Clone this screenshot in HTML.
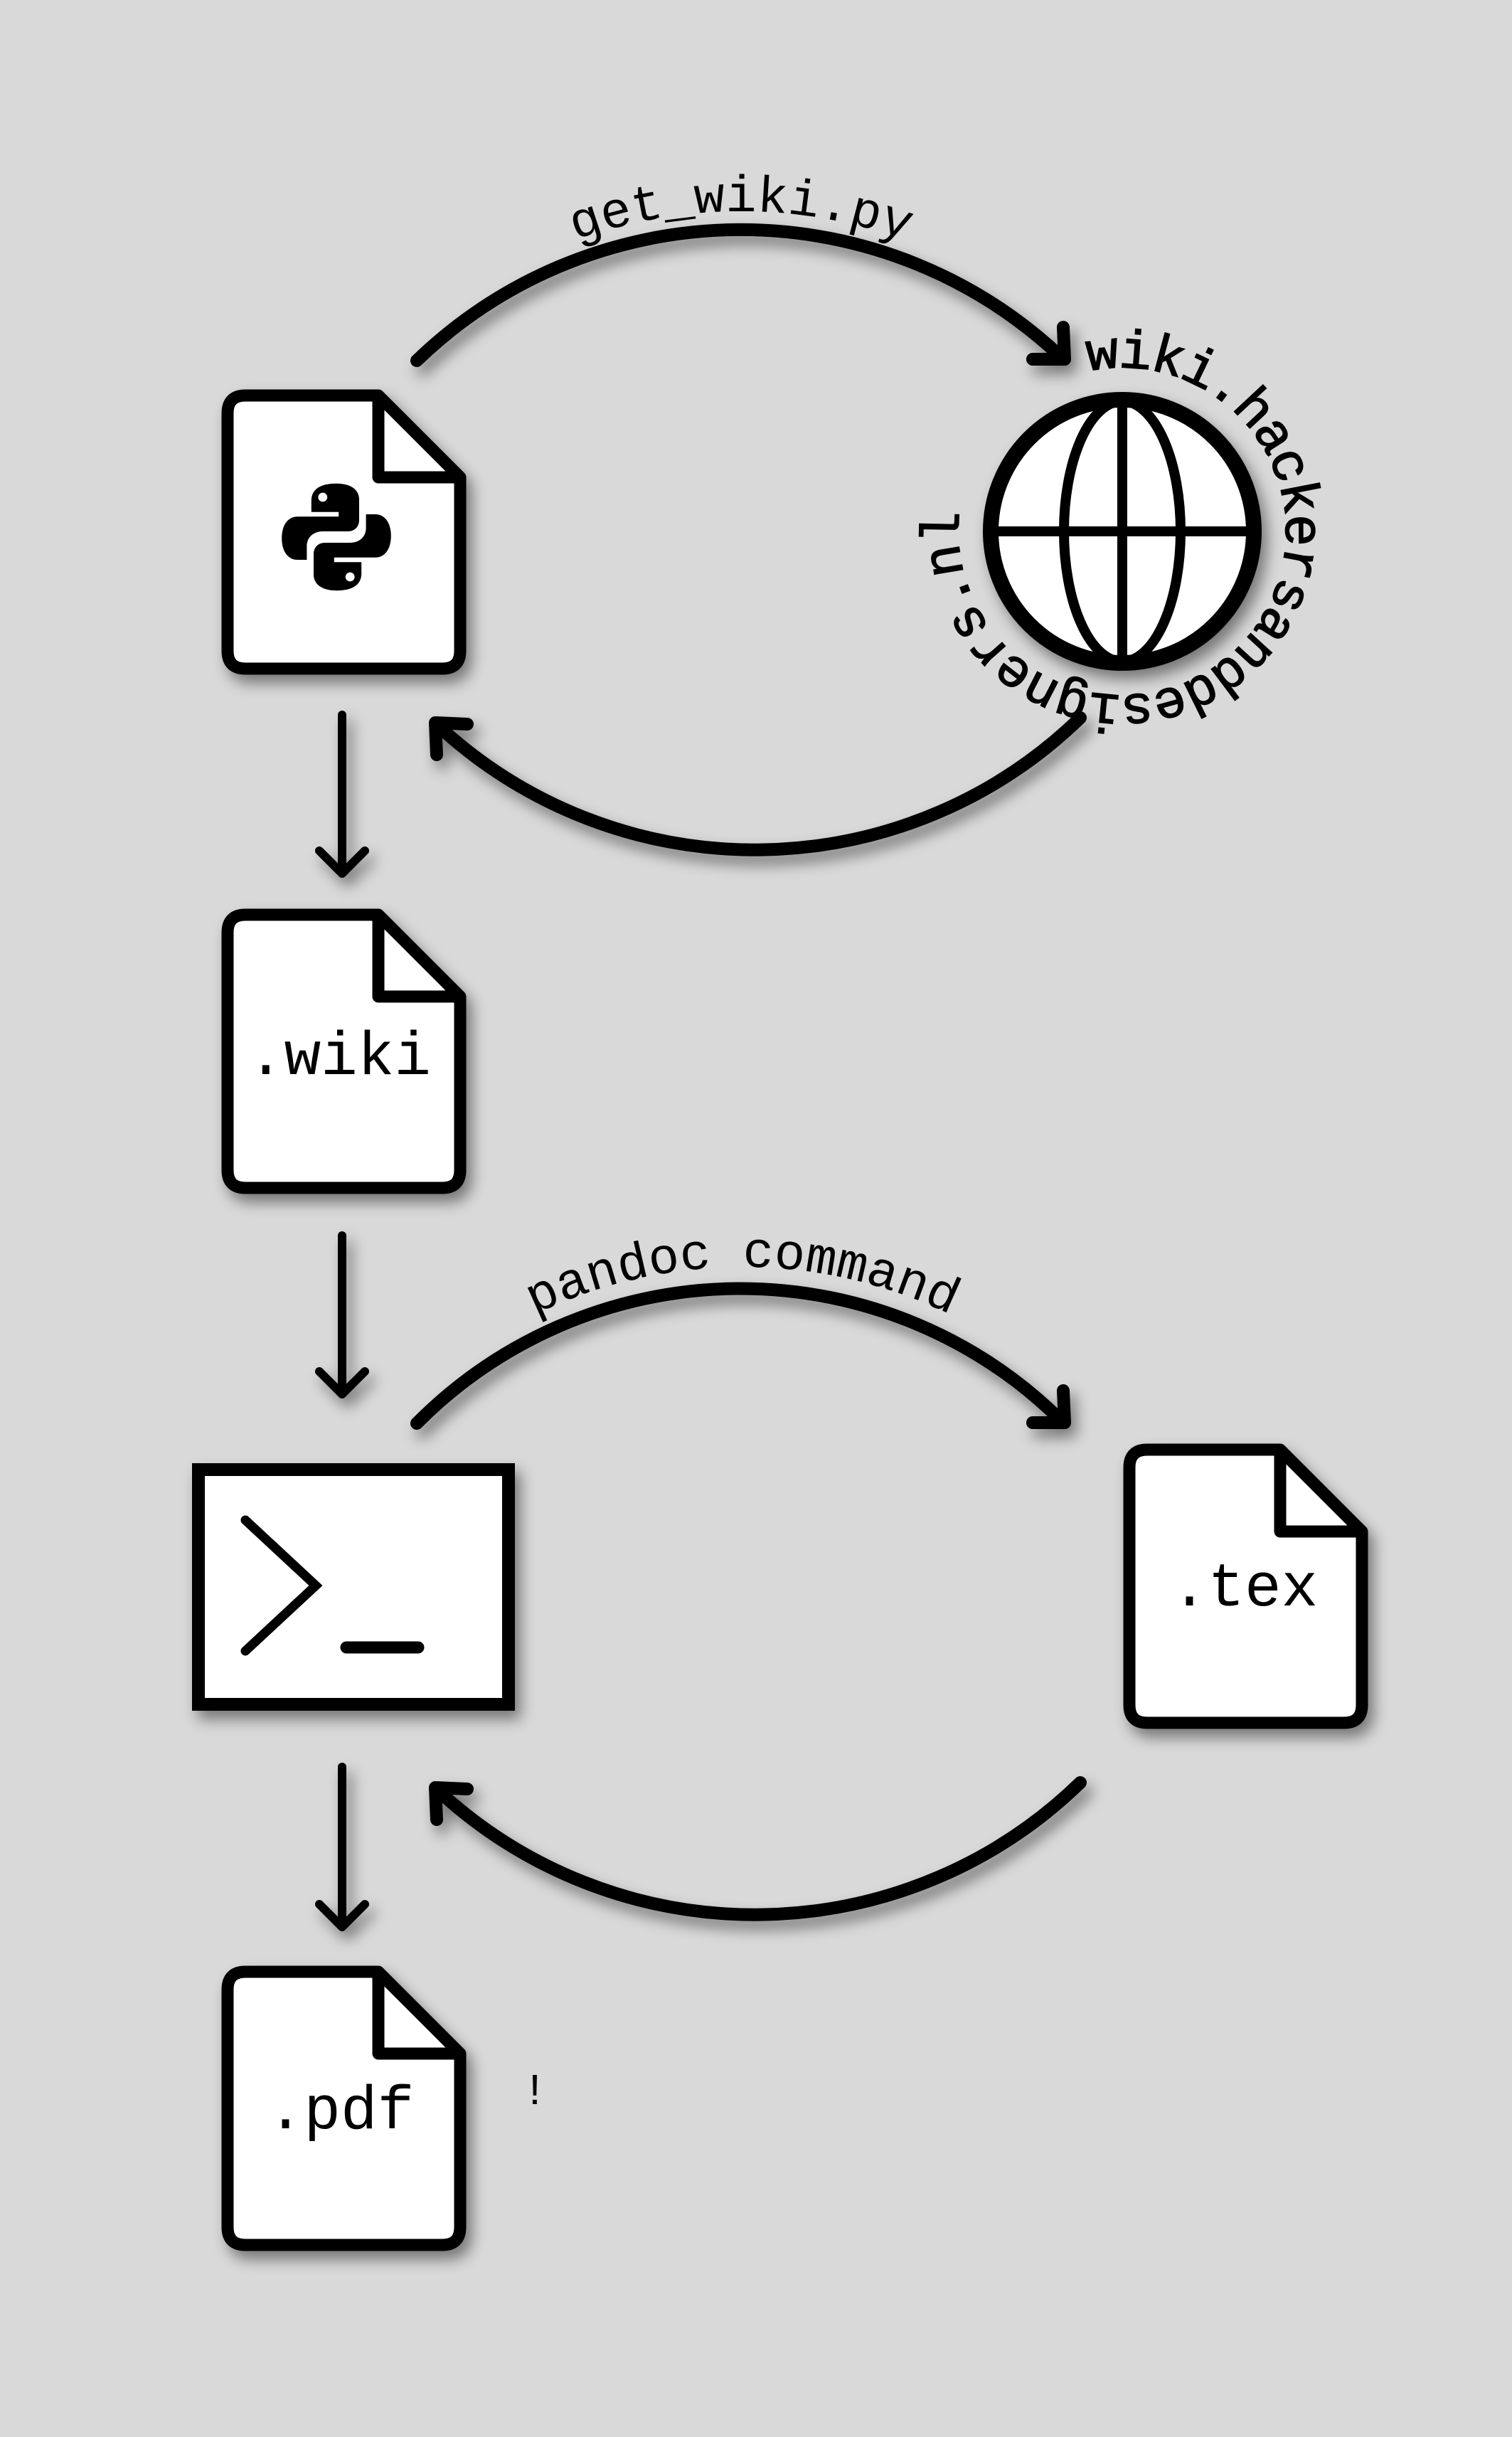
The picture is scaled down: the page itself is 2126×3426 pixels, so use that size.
<!DOCTYPE html>
<html><head><meta charset="utf-8">
<style>
html,body{margin:0;padding:0;background:#d9d9d9;}
svg{display:block;}
text{font-family:"Liberation Mono","DejaVu Sans Mono",monospace;fill:#000;}
</style></head>
<body>
<svg width="2126" height="3426" viewBox="0 0 2126 3426" xmlns="http://www.w3.org/2000/svg">
<defs>
<filter id="sh" x="-20%" y="-20%" width="140%" height="140%">
<feDropShadow dx="8" dy="12" stdDeviation="10" flood-color="#000" flood-opacity="0.45"/>
</filter>
<path id="tp1" d="M362 977 A680 680 0 0 1 1722 977"/>
<path id="tp2" d="M373 2452 A671 671 0 0 1 1715 2452"/>
<path id="tpg" d="M1530 522 A230 230 0 1 1 1626 972 A230 230 0 1 1 1530 522"/>
</defs>
<rect width="2126" height="3426" fill="#d9d9d9"/>

<g filter="url(#sh)" fill="none" stroke="#000" stroke-linecap="round" stroke-linejoin="round">
  <path d="M586 507 A656 656 0 0 1 1490 500" stroke-width="18"/>
  <polyline points="1452,505 1497,505 1495,460" stroke-width="18"/>
  <path d="M1519 1009 A656 656 0 0 1 618 1022" stroke-width="18"/>
  <polyline points="657,1018 612,1016 614,1061" stroke-width="18"/>
  <path d="M586 2001 A641 641 0 0 1 1490 1995" stroke-width="18"/>
  <polyline points="1452,2000 1497,2000 1495,1955" stroke-width="18"/>
  <path d="M1519 2506 A656 656 0 0 1 618 2519" stroke-width="18"/>
  <polyline points="657,2515 612,2513 614,2558" stroke-width="18"/>
  <line x1="481" y1="1005" x2="481" y2="1226" stroke-width="12"/>
  <polyline points="449,1196 481,1228 513,1196" stroke-width="12"/>
  <line x1="481" y1="1737" x2="481" y2="1958" stroke-width="12"/>
  <polyline points="449,1928 481,1960 513,1928" stroke-width="12"/>
  <line x1="481" y1="2484" x2="481" y2="2707" stroke-width="12"/>
  <polyline points="449,2677 481,2709 513,2677" stroke-width="12"/>
</g>

<g filter="url(#sh)" fill="#fff" stroke="#000" stroke-width="17" stroke-linejoin="round">
  <g transform="translate(320,556)">
    <path d="M25 0 L212 0 L327 115 L327 359 Q327 384 302 384 L25 384 Q0 384 0 359 L0 25 Q0 0 25 0 Z"/>
    <path d="M212 0 L212 115 L327 115" fill="none"/>
  </g>
  <g transform="translate(320,1286)">
    <path d="M25 0 L212 0 L327 115 L327 359 Q327 384 302 384 L25 384 Q0 384 0 359 L0 25 Q0 0 25 0 Z"/>
    <path d="M212 0 L212 115 L327 115" fill="none"/>
  </g>
  <g transform="translate(320,2772)">
    <path d="M25 0 L212 0 L327 115 L327 359 Q327 384 302 384 L25 384 Q0 384 0 359 L0 25 Q0 0 25 0 Z"/>
    <path d="M212 0 L212 115 L327 115" fill="none"/>
  </g>
  <g transform="translate(1588,2038)">
    <path d="M25 0 L212 0 L327 115 L327 359 Q327 384 302 384 L25 384 Q0 384 0 359 L0 25 Q0 0 25 0 Z"/>
    <path d="M212 0 L212 115 L327 115" fill="none"/>
  </g>
  <rect x="279" y="2066" width="436" height="330" stroke-linejoin="miter" stroke-width="18"/>
  <circle cx="1578" cy="747" r="185" stroke-width="22"/>
</g>

<g fill="none" stroke="#000" stroke-width="14">
  <ellipse cx="1578" cy="747" rx="82" ry="183"/>
  <line x1="1578" y1="565" x2="1578" y2="929"/>
  <line x1="1396" y1="747" x2="1760" y2="747"/>
</g>

<polyline points="345,2137 444,2229 345,2321" fill="none" stroke="#000" stroke-width="13" stroke-linecap="round" stroke-linejoin="miter"/>
<line x1="487" y1="2316" x2="588" y2="2316" stroke="#000" stroke-width="17" stroke-linecap="round"/>

<g transform="translate(393,675) scale(1.6)">
  <path d="M50 3 C36 3 28 8 28 18 L28 28 L52 28 L52 32 L16 32 C7 32 2 40 2 51 C2 62 7 70 16 70 L24 70 L24 58 C24 50 30 45 38 45 L60 45 C66 45 70 41 70 35 L70 17 C70 8 62 3 50 3 Z" fill="#000"/>
  <circle cx="38" cy="15" r="4" fill="#fff"/>
  <g transform="rotate(180 50 50)">
    <path d="M50 3 C36 3 28 8 28 18 L28 28 L52 28 L52 32 L16 32 C7 32 2 40 2 51 C2 62 7 70 16 70 L24 70 L24 58 C24 50 30 45 38 45 L60 45 C66 45 70 41 70 35 L70 17 C70 8 62 3 50 3 Z" fill="#000"/>
    <circle cx="38" cy="15" r="4" fill="#fff"/>
  </g>
</g>

<text x="477" y="1510" font-size="86" text-anchor="middle">.wiki</text>
<text x="1750" y="2257" font-size="86" text-anchor="middle">.tex</text>
<text x="479" y="2992" font-size="86" text-anchor="middle">.pdf</text>
<text x="752" y="2958" font-size="62" text-anchor="middle">!</text>

<text font-size="72"><textPath href="#tp1" startOffset="50%" text-anchor="middle">get_wiki.py</textPath></text>
<text font-size="72"><textPath href="#tp2" startOffset="50%" text-anchor="middle">pandoc command</textPath></text>
<text font-size="76" stroke="#000" stroke-width="1.5"><textPath href="#tpg" startOffset="0" textLength="1160" lengthAdjust="spacing">wiki.hackersanddesigners.nl</textPath></text>
</svg>
</body></html>
